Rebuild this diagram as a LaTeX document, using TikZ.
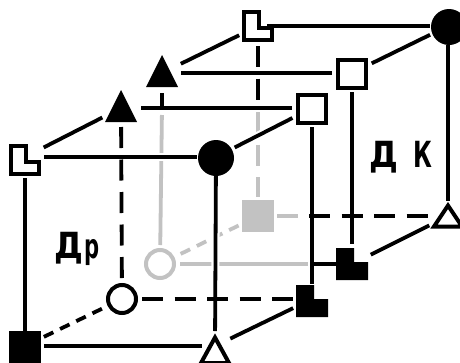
\documentclass[tikz,border=0pt]{standalone}
\usepackage{fontspec}
\setmainfont{DejaVu Sans}
\definecolor{lgray}{gray}{0.76}
\tikzset{
  edge/.style={line width=3.8pt,line cap=butt},
  gedge/.style={edge,draw=lgray},
  halo/.style={line width=8pt,draw=white},
  longdash/.style={dash pattern=on 21pt off 11.5pt},
  shortdash/.style={dash pattern=on 10.5pt off 7.5pt},
  sqr/.style={rectangle,draw=black,fill=white,line width=4pt,minimum size=28pt,inner sep=0pt,outer sep=0pt},
  blksqr/.style={rectangle,fill=black,minimum size=32pt,inner sep=0pt,outer sep=0pt},
  gsqr/.style={rectangle,fill=lgray,minimum size=32pt,inner sep=0pt,outer sep=0pt},
  circ/.style={circle,draw=black,fill=white,line width=4pt,minimum size=28pt,inner sep=0pt,outer sep=0pt},
  gcirc/.style={circ,draw=lgray},
  blkcirc/.style={circle,fill=black,minimum size=36pt,inner sep=0pt,outer sep=0pt},
  lab/.style={inner sep=0pt,outer sep=0pt,font=\bfseries\fontsize{36}{36}\selectfont,anchor=base west}
}
\newcommand{\Lwhite}[1]{\draw[line width=4pt,fill=white,miter limit=10] ($(#1)+(-14,-14)$) -- ++(15,0) -- ++(0,16) -- ++(13,0) -- ++(0,12) -- ++(-28,0) -- cycle;}
\newcommand{\Lblack}[1]{\fill[black] ($(#1)+(-16,-16)$) -- ++(18,0) -- ++(0,14) -- ++(14,0) -- ++(0,18) -- ++(-32,0) -- cycle;}
\newcommand{\Tblack}[1]{\fill[black] ($(#1)+(0,-18)$) -- ($(#1)+(16,14)$) -- ($(#1)+(-16,14)$) -- cycle;}
\newcommand{\Twhite}[4]{\draw[line width=4pt,fill=white,line join=miter] ($(#1)+(0,#2)$) -- ($(#1)+(#4,#3)$) -- ($(#1)+(-#4,#3)$) -- cycle;}
\usetikzlibrary{calc}
\begin{document}
\begin{tikzpicture}[x=1pt,y=-1pt]
\useasboundingbox (0,0) rectangle (460,362);
% cube vertices
\coordinate (A) at (25,157);   \coordinate (B) at (216,157);
\coordinate (C) at (121,108);  \coordinate (E) at (312,108);
\coordinate (D) at (162,73);   \coordinate (F) at (352,73);
\coordinate (G) at (258,26);   \coordinate (H) at (448,26);
\coordinate (O) at (25,346);   \coordinate (P) at (215,346);
\coordinate (N) at (122,299);  \coordinate (K) at (312,299);
\coordinate (M) at (160,264);  \coordinate (J) at (352,264);
\coordinate (L) at (258,216);  \coordinate (I) at (448,216);
% switching points between black and gray
\coordinate (Dm) at (162,108);
\coordinate (Dt) at (162,93);
\coordinate (Gm) at (258,106);
\coordinate (Lm) at (304,216);
\coordinate (Ln) at (309,216);
\coordinate (Jm) at (312,264);
% gray (hidden) part
\draw[gedge,shorten <=7pt,shorten >=19pt] (Dm) -- (M);
\draw[gedge,longdash,shorten <=6pt,shorten >=19pt] (Gm) -- (L);
\draw[gedge,shorten <=20pt] (M) -- (Jm);
\draw[gedge,shorten <=19pt,dash pattern=on 21pt off 40pt] (L) -- (Lm);
\draw[gedge,shortdash,shorten <=23pt,shorten >=18pt] (M) -- (L);
% black edges, with a white gap where they pass over gray
\draw[halo,shorten <=19pt,shorten >=19pt] (A) -- (B);
\draw[halo,shorten <=19pt,shorten >=19pt] (B) -- (E);
\draw[halo,shorten <=19pt,shorten >=19pt] (B) -- (P);
\draw[halo,shorten <=16pt,shorten >=16pt] (E) -- (K);
\draw[edge,shorten <=19pt,shorten >=19pt] (A) -- (B);
\draw[edge,shorten <=21pt,shorten >=21pt] (A) -- (C);
\draw[edge,shorten <=20pt,shorten >=20pt] (C) -- (E);
\draw[edge,shorten <=21pt,shorten >=21pt] (D) -- (G);
\draw[edge,shorten <=19pt,shorten >=20pt] (D) -- (F);
\draw[edge,shorten <=9pt,shorten >=18pt] (G) -- (H);
\draw[edge,shorten <=20pt,shorten >=22pt] (H) -- (F);
\draw[edge,shorten <=21pt,shorten >=22pt] (B) -- (E);
\draw[edge,shorten <=21pt,shorten >=4pt] (A) -- (O);
\draw[edge,shorten <=19pt,shorten >=15pt] (B) -- (P);
\draw[edge,shorten <=19pt,shorten >=15pt] (E) -- (K);
\draw[edge,shorten <=19pt,shorten >=20pt] (F) -- (J);
\draw[edge,shorten <=19pt,shorten >=15pt] (H) -- (I);
\draw[edge,shorten <=19pt,shorten >=13pt] (O) -- (P);
\draw[edge,shorten <=17pt,shorten >=21pt] (P) -- (K);
\draw[edge,shorten <=21pt,shorten >=21pt] (J) -- (I);
\draw[edge] (Dt) -- (Dm);
\draw[edge] (Jm) -- (J);
\draw[edge,longdash,shorten <=20pt] (G) -- (Gm);
\draw[edge,longdash,shorten <=19pt,shorten >=18pt] (C) -- (N);
\draw[edge,longdash,shorten <=20pt,shorten >=18pt] (N) -- (K);
\draw[edge,longdash,shorten >=18pt] (Ln) -- (I);
\draw[edge,shortdash,shorten <=21pt,shorten >=21pt] (O) -- (N);
% symbols
\node[gcirc] (sM) at (M) {};
\node[gsqr] (sL) at (L) {};
\node[circ] (sN) at (N) {};
\node[sqr] (sE) at (312,109) {};
\node[sqr] (sF) at (352,74) {};
\node[blkcirc] (sB) at (216,158) {};
\node[blkcirc] (sH) at (449,27) {};
\node[blksqr] (sO) at (25,347) {};
\Lwhite{25,160}
\Lwhite{258,26}
\Lblack{312,301}
\Lblack{352,264}
\Tblack{121,108}
\Tblack{162,73}
\Twhite{448,216}{-10.5}{10.5}{14}
\Twhite{215,346}{-8.5}{17}{14}
% labels
\node[lab] (t1) at (54,258) {\scalebox{0.9}[1]{Д}\hspace{1.5pt}\scalebox{0.62}[1]{\fontsize{34}{34}\selectfont р}};
\node[lab] (t2) at (369,167) {\scalebox{0.9}[1]{Д}\hspace{16pt}\scalebox{0.64}[1]{К}};
\end{tikzpicture}
\end{document}
